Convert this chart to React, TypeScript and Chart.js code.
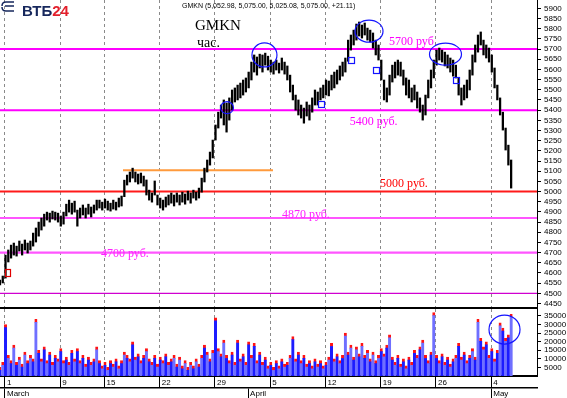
import React, { useEffect, useRef } from 'react';
import { Chart, registerables } from 'chart.js';
Chart.register(...registerables);

// ---------- data ----------
const FIRST_DAY = -0.45; // trading-day index of first bar (0 = 1 March)
const BAR_STEP = 0.25;   // one bar per quarter trading day

const priceHigh = [
  4565, 4585, 4688, 4713, 4737, 4747, 4732, 4757, 4742, 4762, 4747, 4757, 4796, 4821, 4850, 4870, 4889, 4899, 4894, 4904,
  4899, 4894, 4880, 4899, 4938, 4958, 4943, 4953, 4909, 4919, 4934, 4919, 4938, 4924, 4934, 4958, 4958, 4948, 4963, 4953,
  4943, 4958, 4948, 4968, 4978, 5056, 5081, 5096, 5115, 5096, 5086, 5091, 5076, 5057, 5007, 4993, 5052, 4983, 4968, 4958,
  4973, 4983, 4993, 4983, 4993, 4983, 4997, 4988, 5002, 4993, 5007, 4997, 5017, 5066, 5115, 5155, 5194, 5253, 5327, 5390,
  5425, 5450, 5435, 5460, 5499, 5509, 5523, 5533, 5548, 5558, 5587, 5636, 5671, 5661, 5675, 5671, 5680, 5665, 5646, 5636,
  5646, 5631, 5656, 5636, 5617, 5572, 5523, 5474, 5450, 5425, 5410, 5440, 5425, 5460, 5499, 5489, 5509, 5523, 5548, 5543,
  5572, 5587, 5597, 5617, 5636, 5656, 5744, 5769, 5793, 5823, 5833, 5818, 5828, 5803, 5793, 5779, 5744, 5720, 5646, 5548,
  5509, 5572, 5621, 5636, 5646, 5636, 5597, 5558, 5548, 5509, 5523, 5489, 5460, 5425, 5474, 5548, 5597, 5646, 5695, 5705,
  5695, 5685, 5671, 5656, 5646, 5621, 5558, 5509, 5523, 5548, 5597, 5671, 5720, 5769, 5784, 5744, 5720, 5705, 5671, 5607,
  5523, 5460, 5390, 5312, 5228, 5155,
];
const priceLow = [
  4541, 4551, 4575, 4654, 4673, 4688, 4683, 4708, 4688, 4713, 4698, 4713, 4732, 4752, 4781, 4811, 4830, 4860, 4850, 4865,
  4860, 4850, 4830, 4840, 4880, 4899, 4889, 4899, 4830, 4870, 4885, 4870, 4889, 4875, 4894, 4909, 4919, 4909, 4919, 4909,
  4904, 4914, 4909, 4924, 4929, 4975, 5032, 5047, 5066, 5047, 5037, 5042, 5027, 4983, 4958, 4948, 4983, 4934, 4919, 4909,
  4924, 4934, 4943, 4929, 4948, 4934, 4948, 4938, 4958, 4943, 4968, 4958, 4968, 4997, 5047, 5096, 5130, 5165, 5253, 5312,
  5361, 5327, 5292, 5351, 5400, 5440, 5450, 5460, 5474, 5489, 5509, 5548, 5587, 5572, 5607, 5587, 5621, 5597, 5587, 5577,
  5597, 5582, 5597, 5577, 5548, 5489, 5450, 5400, 5376, 5361, 5336, 5371, 5351, 5390, 5425, 5425, 5450, 5460, 5474, 5470,
  5499, 5509, 5528, 5548, 5567, 5587, 5640, 5695, 5720, 5744, 5764, 5754, 5769, 5744, 5735, 5705, 5671, 5646, 5548, 5450,
  5440, 5474, 5538, 5558, 5572, 5567, 5523, 5474, 5460, 5440, 5450, 5410, 5390, 5351, 5376, 5460, 5509, 5558, 5621, 5646,
  5636, 5617, 5607, 5587, 5567, 5558, 5474, 5425, 5450, 5460, 5499, 5572, 5636, 5685, 5720, 5671, 5656, 5636, 5587, 5509,
  5450, 5376, 5302, 5204, 5130, 5017,
];
const volume = [
  5000, 8000, 30000, 12000, 9000, 18000, 8000, 11000, 7000, 14000, 9000, 12000, 10000, 33000, 15000, 10000, 17000, 9000, 14000, 8000,
  12000, 10000, 16000, 9000, 11000, 8000, 15000, 10000, 16000, 9000, 12000, 7000, 11000, 8000, 10000, 17000, 9000, 6000, 8000, 5000,
  9000, 7000, 10000, 6000, 9000, 14000, 12000, 10000, 20000, 11000, 13000, 9000, 12000, 16000, 10000, 8000, 12000, 7000, 11000, 9000,
  13000, 8000, 10000, 12000, 7000, 11000, 6000, 9000, 5000, 8000, 6000, 10000, 7000, 12000, 18000, 14000, 10000, 15000, 34000, 16000,
  13000, 21000, 12000, 9000, 14000, 8000, 21000, 10000, 13000, 8000, 20000, 12000, 19000, 9000, 14000, 8000, 11000, 6000, 8000, 5000,
  9000, 6000, 10000, 7000, 8000, 12000, 23000, 10000, 14000, 9000, 12000, 7000, 9000, 6000, 10000, 7000, 9000, 6000, 8000, 11000,
  19000, 10000, 13000, 9000, 12000, 25000, 14000, 18000, 11000, 17000, 13000, 19000, 12000, 15000, 10000, 14000, 9000, 12000, 16000, 13000,
  18000, 24000, 11000, 8000, 12000, 7000, 10000, 6000, 11000, 8000, 15000, 12000, 17000, 21000, 12000, 9000, 14000, 37000, 12000, 9000,
  13000, 8000, 11000, 7000, 10000, 12000, 19000, 11000, 14000, 9000, 12000, 16000, 11000, 33000, 22000, 17000, 20000, 12000, 16000, 10000,
  15000, 31000, 28000, 22000, 24000, 36000,
];

const dateTickDays = [0, 5, 9, 14, 19, 24, 29, 34, 39, 44];
const dateTickLabels = ['1', '9', '15', '22', '29', '5', '12', '19', '26', '4'];
const monthTickDays = [0, 22, 44];
const monthTickLabels = ['March', 'April', 'May'];
const priceTicks = [
  4450, 4500, 4550, 4600, 4650, 4700, 4750, 4800, 4850, 4900, 4950, 5000, 5050, 5100, 5150,
  5200, 5250, 5300, 5350, 5400, 5450, 5500, 5550, 5600, 5650, 5700, 5750, 5800, 5850, 5900,
];
const volumeTicks = [5000, 10000, 15000, 20000, 25000, 30000, 35000];

const levelPrices = [5700, 5400, 5000, 4870, 4700, 4500];
const levelTexts = ['5700 руб', '5400 руб.', '5000 руб.', '4870 руб.', '4700 руб.'];
const levelTextDays = [34.75, 31.2, 33.94, 25.07, 8.69];
const levelTextPrices = [5734, 5341, 5037, 4885, 4693];
const orangeLevel = 5105;
const orangeFromDay = 10.68;
const orangeToDay = 24.25;

const circleDays = [20.09, 23.48, 32.94, 39.86];
const circlePrices = [5412, 5671, 5788, 5675];
const squareDays = [28.64, 31.27, 33.57, 40.77];
const squarePrices = [5430, 5648, 5597, 5548];
const redSquareDay = 0.23;
const redSquarePrice = 4602;
const volCircleDay = 45.2;
const volCircleValue = 27100;

const headerText = 'GMKN (5,052.98, 5,075.00, 5,025.08, 5,075.00, +21.11)';

// ---------- styles / layout ----------
const X_MIN = -0.45;
const X_MAX = 48.14;
const LEVEL_COLORS = ['#ff00ff', '#ff00ff', '#ff1a1a', '#ff55ff', '#ff55ff', '#d000d0'];
const LEVEL_WIDTHS = [2, 2, 2, 2.2, 2.2, 1.4];
const TEXT_COLORS = ['#ff00ff', '#ff00ff', '#ff0000', '#ff22ff', '#ff22ff'];
const CIRCLE_RX = [6.5, 12.5, 14, 16];
const CIRCLE_RY = [6, 12, 11, 11];
const GRID_COLOR = '#8a8a8a';
const SANS = '"Liberation Sans", Arial, sans-serif';
const SERIF = '"Liberation Serif", "Times New Roman", serif';

const zeroPad = (s: any) => { s.paddingLeft = 0; s.paddingRight = 0; s.paddingTop = 0; s.paddingBottom = 0; };

const annotA = {
  id: 'annotA',
  afterDatasetsDraw(chart: any) {
    const { ctx, scales } = chart;
    const x = scales.x, y = scales.y;
    ctx.save();
    ctx.strokeStyle = '#1414ff';
    ctx.lineWidth = 1.2;
    circleDays.forEach((d, k) => {
      ctx.beginPath();
      ctx.ellipse(x.getPixelForValue(d), y.getPixelForValue(circlePrices[k]), CIRCLE_RX[k], CIRCLE_RY[k], 0, 0, Math.PI * 2);
      ctx.stroke();
    });
    squareDays.forEach((d, k) => {
      const px = x.getPixelForValue(d), py = y.getPixelForValue(squarePrices[k]);
      ctx.strokeRect(Math.round(px - 3) + 0.5, Math.round(py - 3) + 0.5, 6, 6);
    });
    ctx.strokeStyle = '#e00000';
    {
      const px = x.getPixelForValue(redSquareDay), py = y.getPixelForValue(redSquarePrice);
      ctx.strokeRect(Math.round(px - 2.5) + 0.5, Math.round(py - 3.5) + 0.5, 5, 7);
    }
    ctx.font = '12px ' + SERIF;
    ctx.textBaseline = 'middle';
    ctx.textAlign = 'left';
    levelTexts.forEach((t, k) => {
      ctx.fillStyle = TEXT_COLORS[k];
      ctx.fillText(t, x.getPixelForValue(levelTextDays[k]), y.getPixelForValue(levelTextPrices[k]));
    });
    ctx.fillStyle = '#000';
    ctx.font = '7px ' + SANS;
    ctx.fillText(headerText, 182, 6);
    ctx.font = '15px ' + SERIF;
    ctx.fillText('GMKN', 195, 26);
    ctx.font = '14px ' + SERIF;
    ctx.fillText('час.', 197, 43);
    ctx.font = 'bold 15px ' + SANS;
    ctx.fillStyle = '#16275c';
    ctx.fillText('ВТБ', 22, 12);
    const w = ctx.measureText('ВТБ').width;
    ctx.fillStyle = '#e3202c';
    ctx.fillText('24', 22 + w, 12);
    ctx.strokeStyle = '#16275c';
    ctx.lineWidth = 1.5;
    ctx.beginPath();
    ctx.moveTo(14, 2); ctx.lineTo(6, 2); ctx.quadraticCurveTo(2, 2, 2, 6);
    ctx.moveTo(14, 6); ctx.lineTo(5, 6);
    ctx.moveTo(2, 7); ctx.quadraticCurveTo(2, 11, 6, 11); ctx.lineTo(14, 11);
    ctx.stroke();
    ctx.restore();
  },
};

const annotB = {
  id: 'annotB',
  afterDatasetsDraw(chart: any) {
    const { ctx, scales } = chart;
    ctx.save();
    ctx.strokeStyle = '#1414ff';
    ctx.lineWidth = 1.2;
    ctx.beginPath();
    ctx.ellipse(scales.x.getPixelForValue(volCircleDay), scales.y.getPixelForValue(volCircleValue), 15.5, 14.5, 0, 0, Math.PI * 2);
    ctx.stroke();
    ctx.restore();
  },
};

export default function App() {
  const refA = useRef<HTMLCanvasElement>(null);
  const refB = useRef<HTMLCanvasElement>(null);

  useEffect(() => {
    const priceBars = priceHigh.map((h, i) => ({ x: FIRST_DAY + i * BAR_STEP, y: [priceLow[i], h] }));
    const volBars = volume.map((v, i) => ({ x: FIRST_DAY + i * BAR_STEP, y: v }));

    const levelSets: any[] = levelPrices.map((p, k) => ({
      type: 'line',
      data: [{ x: X_MIN, y: p }, { x: X_MAX, y: p }],
      borderColor: LEVEL_COLORS[k],
      borderWidth: LEVEL_WIDTHS[k],
      pointRadius: 0,
      fill: false,
      order: 10,
    }));
    levelSets.push({
      type: 'line',
      data: [{ x: orangeFromDay, y: orangeLevel }, { x: orangeToDay, y: orangeLevel }],
      borderColor: '#ff9a3c',
      borderWidth: 2,
      pointRadius: 0,
      fill: false,
      order: 10,
    });

    const a = new Chart(refA.current as HTMLCanvasElement, {
      type: 'bar',
      data: {
        datasets: [
          {
            type: 'bar',
            data: priceBars as any,
            backgroundColor: '#000',
            borderWidth: 0,
            barThickness: 1.6,
            grouped: false,
            order: 0,
          } as any,
          ...levelSets,
        ],
      },
      options: {
        responsive: false,
        devicePixelRatio: 1,
        animation: false,
        layout: { padding: 0 },
        plugins: { legend: { display: false }, tooltip: { enabled: false }, title: { display: false } },
        scales: {
          x: {
            type: 'linear',
            min: X_MIN,
            max: X_MAX,
            offset: false,
            afterBuildTicks: (s: any) => { s.ticks = dateTickDays.map((v) => ({ value: v })); },
            ticks: { display: false },
            grid: { color: GRID_COLOR, lineWidth: 1, drawTicks: false, offset: false },
            border: { display: true, color: '#000', width: 2, dash: [3, 3] },
            afterFit: (s: any) => { s.height = 1; zeroPad(s); },
          },
          y: {
            type: 'linear',
            position: 'right',
            min: 4428,
            max: 5941,
            beginAtZero: false,
            afterBuildTicks: (s: any) => { s.ticks = priceTicks.map((v) => ({ value: v })); },
            ticks: { autoSkip: false, font: { size: 8, family: SANS }, color: '#000', padding: 3, callback: (v: any) => String(v) },
            grid: { drawOnChartArea: false, tickLength: 4, tickColor: '#000' },
            border: { display: true, color: '#000', width: 1 },
            afterFit: (s: any) => { s.width = 30; zeroPad(s); },
          },
        },
      } as any,
      plugins: [annotA],
    });

    const b = new Chart(refB.current as HTMLCanvasElement, {
      type: 'bar',
      data: {
        datasets: [
          {
            data: volBars as any,
            backgroundColor: (c: any) => (c.dataIndex % 2 ? '#6f6fff' : '#1c1cff'),
            borderColor: '#ff1414',
            borderWidth: { top: 3 },
            borderSkipped: 'start',
            barThickness: 3,
            grouped: false,
          } as any,
        ],
      },
      options: {
        responsive: false,
        devicePixelRatio: 1,
        animation: false,
        layout: { padding: 0 },
        plugins: { legend: { display: false }, tooltip: { enabled: false } },
        scales: {
          x: {
            type: 'linear',
            position: 'bottom',
            weight: 1,
            min: X_MIN,
            max: X_MAX,
            offset: false,
            afterBuildTicks: (s: any) => { s.ticks = dateTickDays.map((v) => ({ value: v })); },
            ticks: {
              autoSkip: false, maxRotation: 0, minRotation: 0, align: 'start', labelOffset: 2, padding: -10,
              font: { size: 8, family: SANS }, color: '#000',
              callback: (v: any) => dateTickLabels[dateTickDays.indexOf(v)] ?? '',
            },
            grid: { color: GRID_COLOR, lineWidth: 1, tickColor: '#000', tickLength: 12, tickWidth: 1, offset: false, tickBorderDash: [] },
            border: { display: true, color: '#000', width: 2, dash: [3, 3] },
            afterFit: (s: any) => { s.height = 12; zeroPad(s); },
          },
          xm: {
            type: 'linear',
            position: 'bottom',
            weight: 2,
            min: X_MIN,
            max: X_MAX,
            offset: false,
            afterBuildTicks: (s: any) => { s.ticks = monthTickDays.map((v) => ({ value: v })); },
            ticks: {
              autoSkip: false, maxRotation: 0, minRotation: 0, align: 'start', labelOffset: 2, padding: -9,
              font: { size: 8, family: SANS }, color: '#000',
              callback: (v: any) => monthTickLabels[monthTickDays.indexOf(v)] ?? '',
            },
            grid: { drawOnChartArea: false, tickColor: '#000', tickLength: 10, tickWidth: 1, offset: false },
            border: { display: true, color: '#000', width: 1.5 },
            afterFit: (s: any) => { s.height = 10; zeroPad(s); },
          },
          y: {
            type: 'linear',
            position: 'right',
            min: 0,
            max: 39083,
            afterBuildTicks: (s: any) => { s.ticks = volumeTicks.map((v) => ({ value: v })); },
            ticks: { autoSkip: false, font: { size: 8, family: SANS }, color: '#000', padding: 3, callback: (v: any) => String(v) },
            grid: { drawOnChartArea: false, tickLength: 4, tickColor: '#000' },
            border: { display: true, color: '#000', width: 1 },
            afterFit: (s: any) => { s.width = 30; zeroPad(s); },
          },
        },
      } as any,
      plugins: [annotB],
    });

    return () => { a.destroy(); b.destroy(); };
  }, []);

  return (
    <div style={{ position: 'absolute', left: 0, top: 0, width: 567, height: 398, background: '#fff' }}>
      <canvas ref={refA} width={567} height={309} style={{ position: 'absolute', left: 0, top: 0 }} />
      <canvas ref={refB} width={567} height={89} style={{ position: 'absolute', left: 0, top: 309 }} />
    </div>
  );
}
